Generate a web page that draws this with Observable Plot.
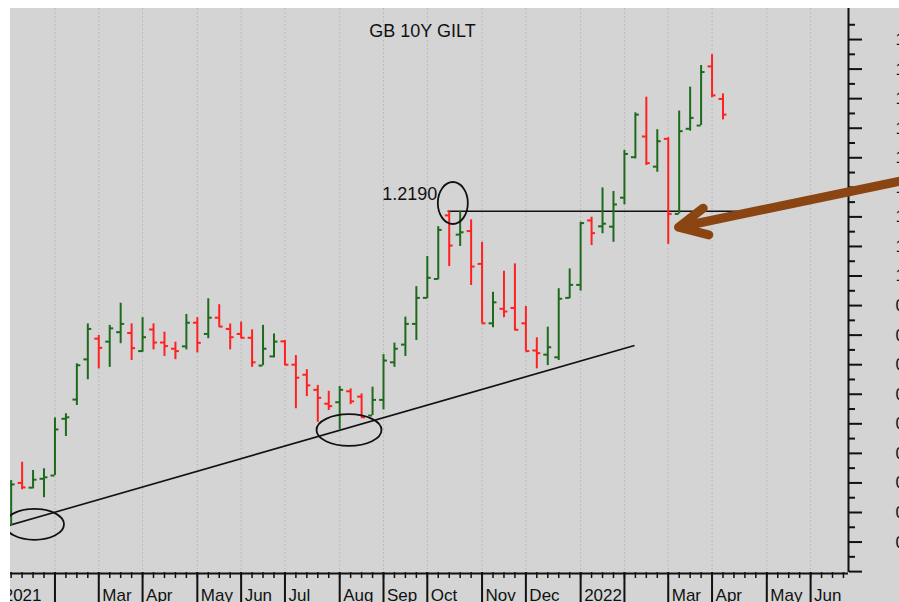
<!DOCTYPE html>
<html><head><meta charset="utf-8">
<script src="https://cdn.jsdelivr.net/npm/d3@7"></script>
<script src="https://cdn.jsdelivr.net/npm/@observablehq/plot@0.6"></script>
<style>
html, body { margin:0; padding:0; background:#fff; overflow:hidden; width:899px; height:602px; }
#chart { padding: 8px 0 0 10px; }
#chart svg { display:block; }
</style></head><body><div id="chart"></div>
<script>
// ---- data (weekly bars, week ending Friday) ----
const seriesStart = "2021-01-01";   // week index 0
const firstBarWeek = 1;              // first bar = 2021-01-08
const open  = [0.200,0.300,0.284,0.314,0.325,0.517,0.582,0.718,0.788,0.778,
               0.810,0.807,0.746,0.819,0.775,0.754,0.762,0.842,0.804,0.859,
               0.821,0.804,0.791,0.697,0.728,0.779,0.700,0.666,0.615,0.568,
               0.573,0.610,0.592,0.528,0.581,0.708,0.768,0.838,0.926,0.990,
               1.205,1.140,1.152,1.041,0.840,0.889,0.892,0.840,0.748,0.734,
               0.725,0.926,0.970,1.188,1.168,1.167,1.265,1.402,1.472,1.370,
               1.464,1.210,1.498,1.509,1.709,1.599];
const high  = [0.308,0.370,0.342,0.348,0.520,0.534,0.703,0.838,0.799,0.833,
               0.908,0.838,0.859,0.838,0.810,0.776,0.870,0.859,0.923,0.903,
               0.838,0.844,0.818,0.833,0.804,0.782,0.731,0.683,0.630,0.610,
               0.626,0.618,0.601,0.624,0.734,0.773,0.861,0.964,1.066,1.167,
               1.219,1.219,1.190,1.114,0.945,1.016,1.041,0.897,0.791,0.827,
               0.957,1.024,1.182,1.199,1.298,1.286,1.425,1.552,1.605,1.495,
               1.468,1.558,1.639,1.712,1.749,1.616];
const low   = [0.156,0.277,0.280,0.250,0.325,0.457,0.562,0.649,0.686,0.691,
               0.771,0.714,0.742,0.750,0.728,0.717,0.750,0.740,0.788,0.827,
               0.750,0.788,0.691,0.697,0.723,0.697,0.551,0.592,0.505,0.545,
               0.480,0.565,0.520,0.528,0.547,0.691,0.728,0.782,0.923,0.987,
               1.032,1.100,0.968,0.840,0.825,0.859,0.816,0.746,0.686,0.697,
               0.714,0.923,0.949,1.103,1.143,1.114,1.241,1.396,1.374,1.351,
               1.107,1.210,1.490,1.509,1.603,1.528];
const close = [0.295,0.285,0.311,0.319,0.481,0.522,0.698,0.821,0.757,0.823,
               0.838,0.756,0.793,0.775,0.763,0.746,0.842,0.774,0.859,0.829,
               0.793,0.791,0.708,0.754,0.778,0.700,0.656,0.630,0.588,0.560,
               0.615,0.576,0.522,0.581,0.714,0.754,0.838,0.926,0.994,1.156,
               1.103,1.148,1.032,0.840,0.911,0.880,0.818,0.746,0.739,0.759,
               0.923,0.970,1.179,1.145,1.177,1.242,1.413,1.546,1.382,1.456,
               1.210,1.490,1.535,1.690,1.611,1.546];

const monthLabels = ["2021","","Mar","Apr","May","Jun","Jul","Aug","Sep","Oct","Nov","Dec",
                     "2022","","Mar","Apr","May","Jun"];
const yMajor = [0,0.1,0.2,0.3,0.4,0.5,0.6,0.7,0.8,0.9,1.0,1.1,1.2,1.3,1.4,1.5,1.6,1.7,1.8];
const yMinor = [0.05,0.15,0.25,0.35,0.45,0.55,0.65,0.75,0.85,0.95,1.05,1.15,1.25,1.35,1.45,1.55,1.65,1.75,1.85];

// annotations (week index, yield)
const title = ["GB 10Y GILT"];
const trendLine = [{x1: 0.5, y1: 0.153, x2: 57.92, y2: 0.765}];
const resistance = [{x1: 40.85, x2: 67.6, y: 1.219, labelAt: 41}];
const circles = [{x: 3.13, y: 0.160}, {x: 31.85, y: 0.479}, {x: 41.33, y: 1.247}];
const pointer = [{x1: 82.7, y1: 1.325, x2: 61.94, y2: 1.165}];

// ---- build ----
const xDomain = [0.94, 77.46];
const yDomain = [-0.003, 1.905];
const DAY = 864e5;
const origin = Date.parse(seriesStart);
const weekIdx = d3.range(0, 78);
const monthOf = k => new Date(origin + 7 * k * DAY).getUTCMonth();
const monthStarts = weekIdx.filter(k => k === 0 || monthOf(k) !== monthOf(k - 1));

const bars = open.map((o, j) => ({i: firstBarWeek + j, open: o, high: high[j], low: low[j], close: close[j]}));
const GREEN = "#1d6a1d", RED = "#ff2020";
const col = d => d.close >= d.open ? GREEN : RED;
const tickW = 0.36;

function ellipse(rx, ry) {
  const k = 0.5523;
  return {draw(c) {
    c.moveTo(rx, 0);
    c.bezierCurveTo(rx, k*ry, k*rx, ry, 0, ry);
    c.bezierCurveTo(-k*rx, ry, -rx, k*ry, -rx, 0);
    c.bezierCurveTo(-rx, -k*ry, -k*rx, -ry, 0, -ry);
    c.bezierCurveTo(k*rx, -ry, rx, -k*ry, rx, 0);
    c.closePath();
  }};
}
const radii = [[29.5, 15.5], [32.5, 15.8], [15, 21]];

const chart = Plot.plot({
  width: 889, height: 594,
  marginTop: 0, marginLeft: 0, marginRight: 51, marginBottom: 30,
  x: {domain: xDomain, label: null},
  y: {domain: yDomain, label: null},
  style: {background: "#d4d4d4", fontFamily: "'Liberation Sans', Arial, sans-serif", color: "#111", overflow: "hidden"},
  marks: [
    Plot.ruleX(monthStarts, {x: d => d, stroke: "#b4b4b4", strokeDasharray: "1.5,2.5", strokeWidth: 1}),
    Plot.link(trendLine, {x1: "x1", y1: "y1", x2: "x2", y2: "y2", stroke: "#111", strokeWidth: 1.6}),
    Plot.link(resistance, {x1: "x1", x2: "x2", y1: "y", y2: "y", stroke: "#111", strokeWidth: 1.6}),
    Plot.ruleX(bars, {x: "i", y1: "low", y2: "high", stroke: col, strokeWidth: 2}),
    Plot.ruleY(bars, {y: "open", x1: d => d.i - tickW, x2: "i", stroke: col, strokeWidth: 2}),
    Plot.ruleY(bars, {y: "close", x1: "i", x2: d => d.i + tickW, stroke: col, strokeWidth: 2}),
    ...circles.map((c, k) => Plot.dot([c], {x: "x", y: "y", symbol: ellipse(...radii[k]), fill: "none", stroke: "#111", strokeWidth: 1.8})),
    Plot.text(resistance, {x: "labelAt", y: "y", text: d => d3.format(".4f")(d.y), textAnchor: "end", lineAnchor: "bottom", dx: -12, dy: -11, fontSize: 18, fill: "#111"}),
    Plot.text(title, {text: d => d, frameAnchor: "top", lineAnchor: "bottom", dx: -7, dy: 28, fontSize: 18, fill: "#111"}),
    Plot.ruleY([yDomain[0]], {y: d => d, stroke: "#111", strokeWidth: 2, dy: 1}),
    Plot.ruleX([xDomain[1]], {x: d => d, stroke: "#111", strokeWidth: 2}),
    Plot.axisX(weekIdx, {tickSize: 6, tickFormat: () => "", strokeWidth: 1.5, label: null, stroke: "#111"}),
    Plot.axisX(monthStarts, {tickSize: 30, tickFormat: () => "", strokeWidth: 2, label: null, stroke: "#111"}),
    Plot.text(monthStarts, {x: d => d, y: () => yDomain[0], text: (d, k) => monthLabels[k], textAnchor: "start", lineAnchor: "bottom", dx: 3.5, dy: 28, fontSize: 17, fill: "#111"}),
    Plot.axisY(yMajor, {anchor: "right", tickSize: 13, tickPadding: 34, tickFormat: d => d === 0 ? "" : d.toFixed(4), fontSize: 17, strokeWidth: 2, label: null, stroke: "#111", fill: "#111"}),
    Plot.axisY(yMinor, {anchor: "right", tickSize: 6, tickFormat: () => "", strokeWidth: 2, label: null, stroke: "#111"}),
    Plot.arrow(pointer, {x1: "x1", y1: "y1", x2: "x2", y2: "y2", stroke: "#8b4513", strokeWidth: 9, headLength: 5.2, headAngle: 52, strokeLinecap: "round", strokeLinejoin: "round"})
  ]
});
document.getElementById("chart").appendChild(chart);
</script>
</body></html>
